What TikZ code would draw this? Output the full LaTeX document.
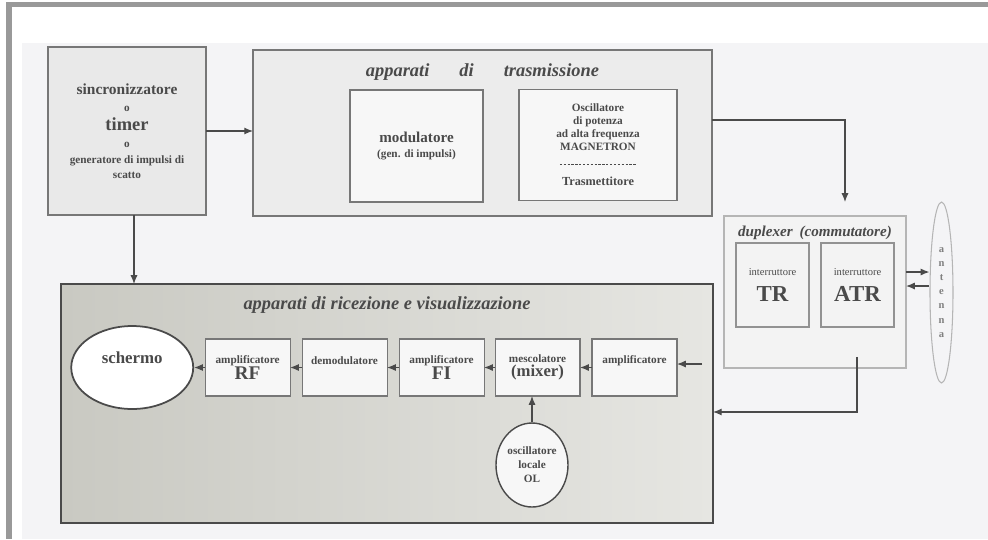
\documentclass[tikz,border=0pt]{standalone}
\usepackage{fontspec}
\setmainfont{Liberation Serif}
\usetikzlibrary{shapes.geometric, arrows.meta, positioning, calc}

\definecolor{cornice}{HTML}{999999}
\definecolor{carta}{HTML}{F4F4F6}
\definecolor{inchiostro}{HTML}{4A4A4A}
\definecolor{bordo}{HTML}{777777}
\definecolor{grigiobox}{HTML}{E9E9E9}
\definecolor{grigiotx}{HTML}{ECECEC}
\definecolor{rxscuro}{HTML}{C9C9C2}
\definecolor{rxchiaro}{HTML}{E6E6E2}
\definecolor{dupfondo}{HTML}{F3F3F3}
\definecolor{dupbordo}{HTML}{B5B5B5}

\newcommand{\fs}[2]{\fontsize{#1pt}{#2pt}\selectfont}
\newcommand{\tratteggio}{\hbox to 1.56cm{\leaders\hbox to 2.2pt{\hss\rule[0.5ex]{1.3pt}{0.4pt}\hss}\hfill}}

\begin{document}
\begin{tikzpicture}[x=0.02cm, y=-0.02cm,
    every node/.style={text=inchiostro},
    gruppo/.style={rectangle, draw=bordo, line width=0.7pt, inner sep=0pt, outer sep=0pt},
    blocco/.style={rectangle, draw=bordo, line width=0.6pt, fill=white!97!black, align=center, inner sep=0pt, outer sep=0pt},
    rxblocco/.style={blocco, minimum width=1.7cm, minimum height=1.14cm, font=\bfseries\fs{6.4}{8}},
    interr/.style={blocco, draw=bordo!80, fill=dupfondo, minimum width=1.46cm, minimum height=1.68cm, font=\fs{6}{9}},
    titolo/.style={inner sep=0pt, font=\bfseries\itshape\fs{10.5}{12}},
    freccia/.style={-{Latex[length=5pt, width=4pt]}, draw=inchiostro, line width=0.7pt}
]

% fondo e cornice
\useasboundingbox (0,0) rectangle (988,539);
\fill[white] (0,0) rectangle (988,539);
\fill[carta] (22,43) rectangle (988,539);
\fill[cornice] (6,2) rectangle (988,7);
\fill[cornice] (6,2) rectangle (12,539);

% sincronizzatore
\node[blocco, fill=grigiobox, minimum width=3.16cm, minimum height=3.36cm, font=\bfseries\fs{6.4}{8.5}] (sync) at (127,131)
  {{\fs{8.8}{10}sincronizzatore}\\[1pt]o\\[2.5pt]{\fs{10.5}{11}timer}\\[1pt]o\\[0.5pt]generatore di impulsi di\\scatto};

% apparati di trasmissione
\node[gruppo, fill=grigiotx, minimum width=9.18cm, minimum height=3.32cm] (tx) at (482.5,133) {};
\node[titolo] (ttx) at ([yshift=-0.44cm]tx.north) {apparati\hspace{0.6cm}di\hspace{0.6cm}trasmissione};
\node[blocco, minimum width=2.66cm, minimum height=2.24cm, font=\bfseries\fs{6.4}{8}] (mod) at (416.5,146)
  {{\fs{8.6}{10}modulatore}\\(gen. di impulsi)};
\node[blocco, minimum width=3.16cm, minimum height=2.22cm, font=\bfseries\fs{6.4}{7.4}] (magn) at (598,145)
  {Oscillatore\\di potenza\\ad alta frequenza\\MAGNETRON\\[2pt]\tratteggio\\[3pt]{\fs{7}{8}Trasmettitore}};

% duplexer e antenna
\node[gruppo, draw=dupbordo, fill=dupfondo, minimum width=3.64cm, minimum height=3.04cm] (dup) at (815,292) {};
\node[titolo, font=\bfseries\itshape\fs{8.6}{10}] (tdup) at ([yshift=-0.34cm]dup.north) {duplexer\hspace{0.2em} (commutatore)};
\node[interr] (tr) at (772.5,285) {interruttore\\[6pt]{\bfseries\fs{13}{14}TR}};
\node[interr] (atr) at (857.5,285) {interruttore\\[6pt]{\bfseries\fs{13}{14}ATR}};
\node[ellipse, draw=dupbordo, line width=0.6pt, minimum width=0.46cm, minimum height=3.62cm, inner sep=0pt,
  text=inchiostro!70, align=center, font=\bfseries\fs{6}{8}] (ant) at (941.5,292.5) {a\\n\\t\\e\\n\\n\\a};

% apparati di ricezione e visualizzazione
\node[gruppo, draw=inchiostro, line width=0.8pt, left color=rxscuro, right color=rxchiaro, minimum width=13.04cm, minimum height=4.78cm] (rx) at (387,403.5) {};
\node[titolo] (trx) at ([yshift=-0.42cm]rx.north) {apparati di ricezione e visualizzazione};
\node[rxblocco] (amp) at (634.5,367.5) {amplificatore\\{\fs{11}{11}\phantom{RF}}};
\node[rxblocco, left=0.24cm of amp] (mix) {mescolatore\\{\fs{9.5}{11}(mixer)}};
\node[rxblocco, left=0.22cm of mix] (fi) {amplificatore\\{\fs{11}{11}FI}};
\node[rxblocco, left=0.24cm of fi] (demod) {demodulatore\\{\fs{11}{11}\phantom{RF}}};
\node[rxblocco, left=0.24cm of demod] (rf) {amplificatore\\{\fs{11}{11}RF}};
\node[ellipse, draw=inchiostro, line width=1pt, fill=white, minimum width=2.44cm, minimum height=1.66cm, inner sep=0pt,
  left=0.22cm of rf, font=\bfseries\fs{9.6}{11}] (scr) {\raisebox{0.4cm}{schermo}};
\node[ellipse, draw=inchiostro, line width=0.8pt, fill=white!97!black, minimum width=1.44cm, minimum height=1.68cm, inner sep=0pt,
  align=center, font=\bfseries\fs{6.4}{8}] (ol) at (532,465) {oscillatore\\locale\\OL};
\coordinate (rfin) at (702,364);

% collegamenti
\draw[freccia] (sync.east) -- (sync.east -| tx.west);
\draw[freccia] ([yshift=0.26cm]tx.east) -| ([xshift=0.6cm, yshift=0.28cm]dup.north);
\draw[freccia] ([yshift=0.4cm]dup.east) -- ([yshift=0.4cm]dup.east -| ant.west);
\draw[freccia] ([yshift=0.13cm]ant.west) -- ([yshift=0.13cm]ant.west -| dup.east);
\draw[freccia] ([xshift=0.84cm, yshift=0.22cm]dup.south) |- ([yshift=-0.17cm]rx.east);
\draw[freccia] ([xshift=0.14cm]sync.south) -- ([xshift=0.14cm]sync.south |- rx.north);
\draw[freccia] (rfin) -- (rfin -| amp.east);
\foreach \a/\b in {amp/mix, mix/fi, fi/demod, demod/rf, rf/scr}
  \draw[freccia] (\a) -- (\b);
\draw[freccia] (ol.north) -- (ol.north |- mix.south);

\end{tikzpicture}
\end{document}
